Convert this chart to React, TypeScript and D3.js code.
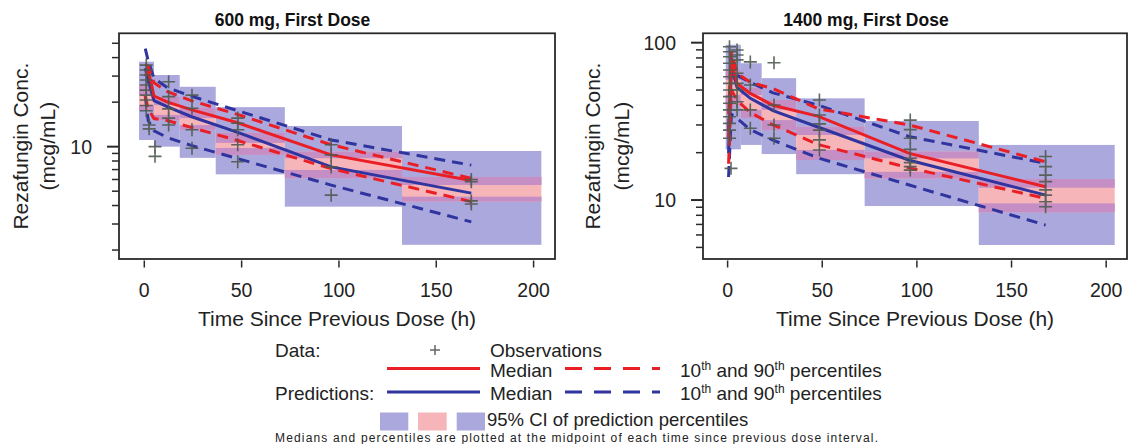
import React from "react";
import * as d3 from "d3";

// ---------- DATA ----------
const lineTimes = [0.5, 2, 5, 12, 24, 48, 96, 168];
const xTicks = [0, 50, 100, 150, 200];

// 600 mg, First Dose
const obsMedian600 = [30, 33, 22, 20, 17.8, 14.5, 8.8, 5.9];
const obsP10_600 = [22, 18, 15.5, 15, 13.5, 11, 7.1, 4.25];
const obsP90_600 = [36, 35, 27, 23.5, 20.5, 16.5, 10.3, 6.1];
const predMedian600 = [34, 28, 20.5, 18.6, 16, 12.5, 7.3, 4.85];
const predP10_600 = [22, 15, 12.8, 11.5, 10.2, 8.3, 5.5, 3.1];
const predP90_600 = [46, 38, 29, 25, 22, 17.5, 11.1, 7.5];

const binStart600 = [-2.7, 5, 18.2, 36.7, 72.2, 132.4];
const binEnd600 = [5, 18.2, 36.7, 72.2, 132.4, 204];
const ciP90Hi600 = [37.5, 30.5, 25.4, 18.5, 13.8, 9.35];
const ciP90Lo600 = [22.3, 19.1, 15.6, 10.6, 8.35, 5.51];
const ciMedHi600 = [26, 21.7, 18.3, 12.4, 9.25, 6.24];
const ciMedLo600 = [17.7, 15.1, 13, 8.8, 6.12, 4.25];
const ciP10Hi600 = [19.1, 16.4, 14, 9.8, 6.96, 4.59];
const ciP10Lo600 = [11.1, 10, 8.4, 6.5, 3.93, 2.17];

const obsTime600 = [
  1, 1, 1, 1, 1, 1, 1, 1, 1, 1,
  2.5, 2.5,
  5.5, 5.5,
  12.5, 12.5, 12.5, 12.5, 12.5,
  24.5, 24.5, 24.5, 24.5,
  48, 48, 48, 48, 48,
  96, 96, 96, 96,
  168, 168, 168, 168,
];
const obsConc600 = [
  35.6, 33.0, 30.5, 28.2, 26.1, 24.1, 22.3, 20.7, 19, 17.5,
  14.0, 13.2,
  10, 8.6,
  27.5, 21.8, 18, 15.6, 14.0,
  22.3, 18.2, 13.0, 9.75,
  15.6, 14.4, 13.0, 10.3, 7.9,
  10.3, 8.8, 7.3, 4.7,
  6.0, 5.8, 4.3, 4.1,
];

// 1400 mg, First Dose
const obsMedian1400 = [25, 76, 55, 47.6, 40, 34, 19.8, 12.15];
const obsP10_1400 = [17, 50, 43, 36, 30, 22.5, 16, 10.25];
const obsP90_1400 = [35, 88, 64, 56, 51, 38, 30, 17.5];
const predMedian1400 = [19.8, 70, 52, 44.3, 37, 29, 17.9, 10.75];
const predP10_1400 = [14, 35, 33, 28, 24, 18.5, 12.45, 6.93];
const predP90_1400 = [28, 80, 62, 56, 48, 40, 25.3, 17.1];

const binStart1400 = [-1, 7, 18, 36.2, 72.4, 132.7];
const binEnd1400 = [7, 18, 36.2, 72.4, 132.7, 204.5];
const ciP90Hi1400 = [97, 74, 59.5, 44.3, 31.8, 22.4];
const ciP90Lo1400 = [58, 46.5, 37.4, 25.9, 18.4, 11.97];
const ciMedHi1400 = [67, 51.6, 43.2, 29.2, 20.3, 13.6];
const ciMedLo1400 = [40, 33.2, 27.8, 17.96, 13.7, 8.36];
const ciP10Hi1400 = [46.5, 37.4, 32.2, 20.8, 15.1, 9.53];
const ciP10Lo1400 = [21, 22.4, 19.6, 14.6, 9.16, 5.18];

const obsTime1400 = [
  1, 1, 1, 1, 1, 1, 1, 1, 1, 1, 1, 1, 1, 1, 1,
  1.8,
  5, 5, 5, 5, 5, 5, 5, 5,
  12, 12, 12, 12,
  24.5, 24.5, 24.5, 24.5,
  48.5, 48.5, 48.5, 48.5, 48.5, 48.5,
  96.5, 96.5, 96.5, 96.5, 96.5, 96.5, 96.5, 96.5,
  168, 168, 168, 168, 168, 168, 168, 168,
];
const obsConc1400 = [
  94.3, 87.6, 81.4, 74.0, 67.0, 60.7, 55.1, 50.0, 45.4, 41.2, 37.4, 33.8, 30.7, 27.8, 24.7,
  15.9,
  89.9, 83.5, 77.7, 63.9, 55.1, 50.0, 42.1, 37.4,
  75.5, 53.8, 37.4, 28.6,
  74.5, 40.2, 30, 24.7,
  43.2, 34.7, 30.5, 27.8, 24.1, 20.8,
  32.2, 28, 24.7, 21, 18.4, 17.3, 16.3, 15.5,
  18.9, 16.3, 14.4, 13.1, 11.6, 10.75, 9.75, 9.07,
];

// ---------- STYLE ----------
const FONT = "'Liberation Sans', Arial, Helvetica, sans-serif";
const RED = "#ea1f26";
const BLUE = "#2f349e";
const LAV = "#aba8dd";
const PINK = "#f6b5b8";
const MAG = "#c58fc6";
const CROSS = "#4f5a50";
const XDOMAIN: [number, number] = [-13, 211];

type PanelCfg = {
  title: string;
  titleX: number;
  x0: number;
  x1: number;
  y0: number;
  y1: number;
  yDomain: [number, number];
  yMajor: number[];
  yMinor: number[];
  yTitleX1: number;
  yTitleX2: number;
  obsMedian: number[];
  obsP10: number[];
  obsP90: number[];
  predMedian: number[];
  predP10: number[];
  predP90: number[];
  binStart: number[];
  binEnd: number[];
  p90Hi: number[];
  p90Lo: number[];
  medHi: number[];
  medLo: number[];
  p10Hi: number[];
  p10Lo: number[];
  obsTime: number[];
  obsConc: number[];
};

const panels: PanelCfg[] = [
  {
    title: "600 mg, First Dose",
    titleX: 292.5,
    x0: 119,
    x1: 555,
    y0: 33.3,
    y1: 259,
    yDomain: [1.74, 58.4],
    yMajor: [10],
    yMinor: [2, 3, 4, 5, 6, 7, 8, 9, 20, 30, 40, 50],
    yTitleX1: 27.5,
    yTitleX2: 55,
    obsMedian: obsMedian600,
    obsP10: obsP10_600,
    obsP90: obsP90_600,
    predMedian: predMedian600,
    predP10: predP10_600,
    predP90: predP90_600,
    binStart: binStart600,
    binEnd: binEnd600,
    p90Hi: ciP90Hi600,
    p90Lo: ciP90Lo600,
    medHi: ciMedHi600,
    medLo: ciMedLo600,
    p10Hi: ciP10Hi600,
    p10Lo: ciP10Lo600,
    obsTime: obsTime600,
    obsConc: obsConc600,
  },
  {
    title: "1400 mg, First Dose",
    titleX: 866,
    x0: 703,
    x1: 1127,
    y0: 33.3,
    y1: 259,
    yDomain: [4.22, 114.7],
    yMajor: [10, 100],
    yMinor: [5, 6, 7, 8, 9, 20, 30, 40, 50, 60, 70, 80, 90],
    yTitleX1: 600,
    yTitleX2: 628.5,
    obsMedian: obsMedian1400,
    obsP10: obsP10_1400,
    obsP90: obsP90_1400,
    predMedian: predMedian1400,
    predP10: predP10_1400,
    predP90: predP90_1400,
    binStart: binStart1400,
    binEnd: binEnd1400,
    p90Hi: ciP90Hi1400,
    p90Lo: ciP90Lo1400,
    medHi: ciMedHi1400,
    medLo: ciMedLo1400,
    p10Hi: ciP10Hi1400,
    p10Lo: ciP10Lo1400,
    obsTime: obsTime1400,
    obsConc: obsConc1400,
  },
];

function Panel({ cfg, idx }: { cfg: PanelCfg; idx: number }) {
  const xs = d3.scaleLinear().domain(XDOMAIN).range([cfg.x0, cfg.x1]);
  const ys = d3.scaleLog().domain(cfg.yDomain).range([cfg.y1, cfg.y0]);
  const line = d3
    .line<[number, number]>()
    .x((d) => xs(d[0]))
    .y((d) => ys(d[1]));
  const path = (vals: number[]) =>
    line(lineTimes.map((t, i) => [t, vals[i]] as [number, number])) || "";
  const clipId = `clip${idx}`;
  const cy = (cfg.y0 + cfg.y1) / 2;
  const cx = (cfg.x0 + cfg.x1) / 2;

  const rect = (s: number, e: number, lo: number, hi: number, fill: string, k: string) => {
    if (hi <= lo) return null;
    return (
      <rect
        key={k}
        x={xs(s)}
        width={xs(e) - xs(s)}
        y={ys(hi)}
        height={ys(lo) - ys(hi)}
        fill={fill}
      />
    );
  };

  return (
    <g>
      <defs>
        <clipPath id={clipId}>
          <rect x={cfg.x0} y={cfg.y0} width={cfg.x1 - cfg.x0} height={cfg.y1 - cfg.y0} />
        </clipPath>
      </defs>
      <g clipPath={`url(#${clipId})`}>
        {cfg.binStart.map((s, i) => {
          const e = cfg.binEnd[i];
          return (
            <g key={i}>
              {rect(s, e, cfg.p90Lo[i], cfg.p90Hi[i], LAV, "a")}
              {rect(s, e, cfg.p10Lo[i], cfg.p10Hi[i], LAV, "b")}
              {rect(s, e, cfg.medLo[i], cfg.medHi[i], PINK, "c")}
              {rect(
                s,
                e,
                Math.max(cfg.medLo[i], cfg.p90Lo[i]),
                Math.min(cfg.medHi[i], cfg.p90Hi[i]),
                MAG,
                "d"
              )}
              {rect(
                s,
                e,
                Math.max(cfg.medLo[i], cfg.p10Lo[i]),
                Math.min(cfg.medHi[i], cfg.p10Hi[i]),
                MAG,
                "e"
              )}
            </g>
          );
        })}
        <g fill="none" strokeWidth={3}>
          <path d={path(cfg.predP90)} stroke={BLUE} strokeDasharray="11,7" />
          <path d={path(cfg.predP10)} stroke={BLUE} strokeDasharray="11,7" />
          <path d={path(cfg.predMedian)} stroke={BLUE} />
          <path d={path(cfg.obsP90)} stroke={RED} strokeDasharray="11,7" />
          <path d={path(cfg.obsP10)} stroke={RED} strokeDasharray="11,7" />
          <path d={path(cfg.obsMedian)} stroke={RED} />
        </g>
        <g stroke={CROSS} strokeWidth={1.6} opacity={0.9}>
          {cfg.obsTime.map((t, i) => {
            const px = xs(t);
            const py = ys(cfg.obsConc[i]);
            return <path key={i} d={`M${px - 6.5},${py}H${px + 6.5}M${px},${py - 6.5}V${py + 6.5}`} />;
          })}
        </g>
      </g>
      <rect
        x={cfg.x0}
        y={cfg.y0}
        width={cfg.x1 - cfg.x0}
        height={cfg.y1 - cfg.y0}
        fill="none"
        stroke="#2a2a2a"
        strokeWidth={1.8}
      />
      {/* y ticks */}
      <g stroke="#2a2a2a" strokeWidth={1.5}>
        {cfg.yMinor.map((v) => (
          <line key={v} x1={cfg.x0 - 7} x2={cfg.x0} y1={ys(v)} y2={ys(v)} />
        ))}
        {cfg.yMajor.map((v) => (
          <line key={v} x1={cfg.x0 - 12} x2={cfg.x0} y1={ys(v)} y2={ys(v)} strokeWidth={2} />
        ))}
      </g>
      {cfg.yMajor.map((v) => (
        <text
          key={v}
          x={cfg.x0 - 27}
          y={ys(v) + 7}
          textAnchor="end"
          fontSize={19.5}
          fill="#222"
        >
          {v}
        </text>
      ))}
      {/* x ticks */}
      <g stroke="#2a2a2a" strokeWidth={1.5}>
        {xTicks.map((v) => (
          <line key={v} x1={xs(v)} x2={xs(v)} y1={cfg.y1 + 1.5} y2={cfg.y1 + 8.5} />
        ))}
      </g>
      {xTicks.map((v) => (
        <text key={v} x={xs(v)} y={296.7} textAnchor="middle" fontSize={19.5} fill="#222">
          {v}
        </text>
      ))}
      <text x={cx} y={326} textAnchor="middle" fontSize={21} fill="#222">
        Time Since Previous Dose (h)
      </text>
      <text
        transform={`translate(${cfg.yTitleX1},${cy}) rotate(-90)`}
        textAnchor="middle"
        fontSize={21}
        fill="#222"
      >
        Rezafungin Conc.
      </text>
      <text
        transform={`translate(${cfg.yTitleX2},${cy}) rotate(-90)`}
        textAnchor="middle"
        fontSize={21}
        fill="#222"
      >
        (mcg/mL)
      </text>
      <text x={cfg.titleX} y={26} textAnchor="middle" fontSize={17.5} fontWeight="bold" fill="#111">
        {cfg.title}
      </text>
    </g>
  );
}

function Pct({ x, y }: { x: number; y: number }) {
  return (
    <text x={x} y={y} fontSize={19} fill="#222">
      10
      <tspan dy={-7} fontSize={12}>
        th
      </tspan>
      <tspan dy={7}> and 90</tspan>
      <tspan dy={-7} fontSize={12}>
        th
      </tspan>
      <tspan dy={7}> percentiles</tspan>
    </text>
  );
}

function Legend() {
  return (
    <g fill="#222">
      <text x={275} y={357} fontSize={19}>
        Data:
      </text>
      <path d="M430,350H440M435,345V355" stroke="#666" strokeWidth={1.5} />
      <text x={490} y={357} fontSize={19}>
        Observations
      </text>

      <line x1={387} x2={480} y1={368.5} y2={368.5} stroke={RED} strokeWidth={3} />
      <text x={490} y={377} fontSize={19}>
        Median
      </text>
      <line x1={565} x2={660} y1={368.5} y2={368.5} stroke={RED} strokeWidth={3} strokeDasharray="17,12" />
      <Pct x={680} y={377} />

      <text x={275} y={400} fontSize={19}>
        Predictions:
      </text>
      <line x1={387} x2={480} y1={392} y2={392} stroke={BLUE} strokeWidth={3} />
      <text x={490} y={400} fontSize={19}>
        Median
      </text>
      <line x1={565} x2={660} y1={392} y2={392} stroke={BLUE} strokeWidth={3} strokeDasharray="17,12" />
      <Pct x={680} y={400} />

      <rect x={380} y={412.5} width={28.3} height={18} fill={LAV} />
      <rect x={418} y={412.5} width={28.7} height={18} fill={PINK} />
      <rect x={456.7} y={412.5} width={28.3} height={18} fill={LAV} />
      <text x={487} y={426} fontSize={18.5}>
        95% CI of prediction percentiles
      </text>
      <text x={275} y={441.5} fontSize={12} textLength={603} lengthAdjust="spacing">
        Medians and percentiles are plotted at the midpoint of each time since previous dose interval.
      </text>
    </g>
  );
}

export default function App() {
  return (
    <svg
      width={1129}
      height={444}
      style={{ position: "absolute", left: 0, top: 0, background: "#fff" }}
      fontFamily={FONT}
    >
      <rect width={1129} height={444} fill="#fff" />
      {panels.map((p, i) => (
        <Panel key={i} cfg={p} idx={i} />
      ))}
      <Legend />
    </svg>
  );
}
